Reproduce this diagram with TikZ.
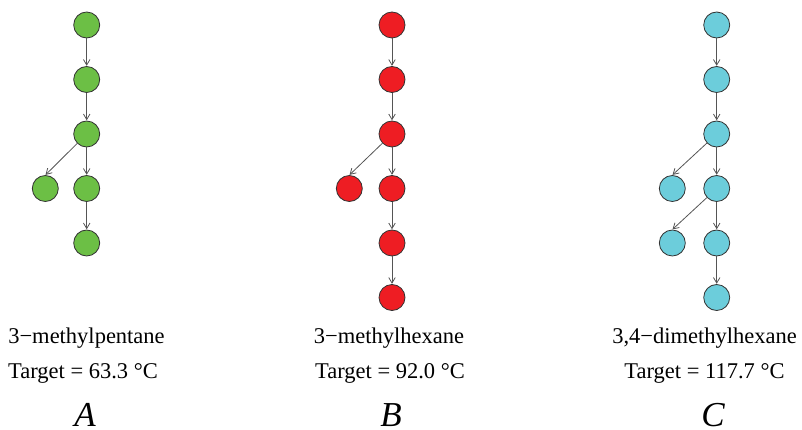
\documentclass[tikz,border=0pt]{standalone}
\usepackage{fontspec}
\setmainfont{Liberation Serif}
\usetikzlibrary{arrows.meta}
\definecolor{atomA}{HTML}{6CBF45}
\definecolor{atomB}{HTML}{EE1D23}
\definecolor{atomC}{HTML}{6CCDDB}
\definecolor{rim}{HTML}{333333}
\definecolor{bond}{HTML}{555555}
\tikzset{
  atom/.style={circle, draw=rim, line width=0.8pt, minimum size=26pt, inner sep=0pt},
  link/.style={draw=bond, line width=0.8pt, -{Straight Barb[length=5.5pt,width=6.5pt]}, shorten >=0.3pt},
  molname/.style={font=\fontsize{22.5}{26}\selectfont, anchor=base, inner sep=0pt},
  moltag/.style={font=\fontsize{35}{40}\selectfont\itshape, anchor=base, inner sep=0pt}
}
\begin{document}
\begin{tikzpicture}[x=1pt,y=-1pt]
\useasboundingbox (0,0) rectangle (802,430);
% 3-methylpentane
\begin{scope}[every node/.append style={fill=atomA}]
\node[atom] (a1) at (86.7,25) {};
\node[atom] (a2) at (86.7,79.5) {};
\node[atom] (a3) at (86.7,134) {};
\node[atom] (a4) at (45.3,188.5) {};
\node[atom] (a5) at (86.7,188.5) {};
\node[atom] (a6) at (86.7,243) {};
\end{scope}
\draw[link] (a1) -- (a2);
\draw[link] (a2) -- (a3);
\draw[link] (a3) -- (a4.north);
\draw[link] (a3) -- (a5);
\draw[link] (a5) -- (a6);
\node[molname] (na) at (86.5,343) {3−methylpentane};
\node[molname] (ta) at (83,378) {Target = 63.3 °C};
\node[moltag] (la) at (85,426) {A};
% 3-methylhexane
\begin{scope}[every node/.append style={fill=atomB}]
\node[atom] (b1) at (392,25) {};
\node[atom] (b2) at (392,79.5) {};
\node[atom] (b3) at (392,134) {};
\node[atom] (b4) at (349.3,188.5) {};
\node[atom] (b5) at (392,188.5) {};
\node[atom] (b6) at (392,243) {};
\node[atom] (b7) at (392,297.5) {};
\end{scope}
\draw[link] (b1) -- (b2);
\draw[link] (b2) -- (b3);
\draw[link] (b3) -- (b4.north);
\draw[link] (b3) -- (b5);
\draw[link] (b5) -- (b6);
\draw[link] (b6) -- (b7);
\node[molname] (nb) at (389,343) {3−methylhexane};
\node[molname] (tb) at (390,378) {Target = 92.0 °C};
\node[moltag] (lb) at (391,426) {B};
% 3,4-dimethylhexane
\begin{scope}[every node/.append style={fill=atomC}]
\node[atom] (c1) at (716.7,25) {};
\node[atom] (c2) at (716.7,79.5) {};
\node[atom] (c3) at (716.7,134) {};
\node[atom] (c4) at (672.3,188.5) {};
\node[atom] (c5) at (716.7,188.5) {};
\node[atom] (c6) at (672.3,243) {};
\node[atom] (c7) at (716.7,243) {};
\node[atom] (c8) at (716.7,297.5) {};
\end{scope}
\draw[link] (c1) -- (c2);
\draw[link] (c2) -- (c3);
\draw[link] (c3) -- (c4.north);
\draw[link] (c3) -- (c5);
\draw[link] (c5) -- (c6.north);
\draw[link] (c5) -- (c7);
\draw[link] (c7) -- (c8);
\node[molname] (nc) at (704.5,343) {3,4−dimethylhexane};
\node[molname] (tc) at (704.5,378) {Target = 117.7 °C};
\node[moltag] (lc) at (713,426) {C};
\end{tikzpicture}
\end{document}
